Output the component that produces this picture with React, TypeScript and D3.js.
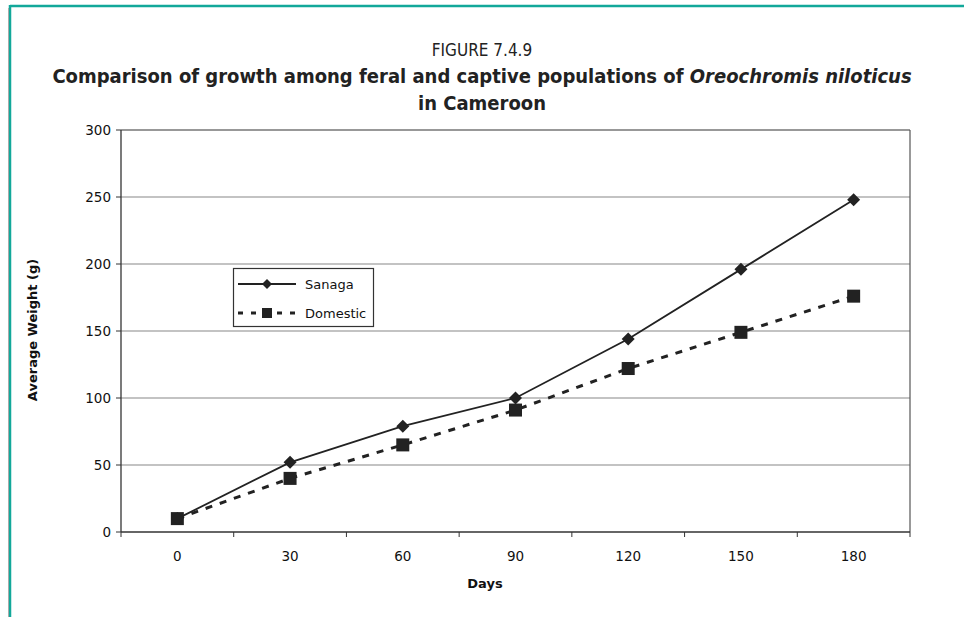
import React from "react";
import * as d3 from "d3";

const days = ["0", "30", "60", "90", "120", "150", "180"];
const sanaga = [10, 52, 79, 100, 144, 196, 248];
const domestic = [10, 40, 65, 91, 122, 149, 176];
const yTicks = [0, 50, 100, 150, 200, 250, 300];

const W = 964, H = 617;
const L = 121, R = 910, T = 130, B = 532;

export default function App() {
  const x = d3.scaleBand<string>().domain(days).range([L, R]);
  const y = d3.scaleLinear().domain([0, 300]).range([B, T]);
  const cx = (d: string) => (x(d) as number) + x.bandwidth() / 2;
  const line = d3.line<number>().x((_, i) => cx(days[i])).y((v) => y(v));
  const tickFont = "'DejaVu Sans', Verdana, sans-serif";
  const titleFont = "'Liberation Sans Narrow', 'DejaVu Sans Condensed', 'Open Sans', sans-serif";
  const edges = [...days.map((d) => x(d) as number), R];
  return (
    <svg width={W} height={H} style={{ position: "absolute", left: 0, top: 0, background: "#fff" }}>
      <line x1={10} y1={6} x2={964} y2={6} stroke="#12a89a" strokeWidth={2.5} />
      <line x1={10} y1={5} x2={10} y2={617} stroke="#12a89a" strokeWidth={2.5} />
      <line x1={8.5} y1={8} x2={8.5} y2={617} stroke="#aaa" strokeWidth={1} />
      <text x={482} y={56} textAnchor="middle" fontFamily={titleFont} fontSize={17} fill="#222">FIGURE 7.4.9</text>
      <text x={482} y={83} textAnchor="middle" fontFamily={titleFont} fontSize={20} fontWeight="bold" fill="#222">
        Comparison of growth among feral and captive populations of <tspan fontStyle="italic">Oreochromis niloticus</tspan>
      </text>
      <text x={482} y={110} textAnchor="middle" fontFamily={titleFont} fontSize={20} fontWeight="bold" fill="#222">in Cameroon</text>
      {yTicks.map((t) => (
        <g key={t}>
          {t > 0 && <line x1={L} x2={R} y1={y(t)} y2={y(t)} stroke={t === 300 ? "#333" : "#888"} strokeWidth={1.2} />}
          <line x1={L - 5} x2={L} y1={y(t)} y2={y(t)} stroke="#333" />
          <text x={L - 10} y={y(t) + 5} textAnchor="end" fontFamily={tickFont} fontSize={13.5} fill="#111">{t}</text>
        </g>
      ))}
      <line x1={R} x2={R} y1={T} y2={B} stroke="#555" strokeWidth={1.2} />
      <line x1={L} x2={L} y1={T} y2={B} stroke="#333" strokeWidth={1.3} />
      <line x1={L} x2={R} y1={B} y2={B} stroke="#333" strokeWidth={1.3} />
      {edges.map((e, i) => (
        <line key={i} x1={e} x2={e} y1={B} y2={B + 5} stroke="#333" />
      ))}
      {days.map((d) => (
        <text key={d} x={cx(d)} y={561} textAnchor="middle" fontFamily={tickFont} fontSize={13.5} fill="#111">{d}</text>
      ))}
      <text x={485} y={588} textAnchor="middle" fontFamily={tickFont} fontSize={13} fontWeight="bold" fill="#111">Days</text>
      <text transform="translate(37,330) rotate(-90)" textAnchor="middle" fontFamily={tickFont} fontSize={13} fontWeight="bold" fill="#111">Average Weight (g)</text>

      <path d={line(domestic) || ""} fill="none" stroke="#222" strokeWidth={3} strokeDasharray="7,8" />
      <path d={line(sanaga) || ""} fill="none" stroke="#222" strokeWidth={1.8} />
      {domestic.map((v, i) => (
        <rect key={i} x={cx(days[i]) - 6.5} y={y(v) - 6.5} width={13} height={13} fill="#222" />
      ))}
      {sanaga.map((v, i) => (
        <path key={i} d={`M${cx(days[i])},${y(v) - 6.5}l6.5,6.5l-6.5,6.5l-6.5,-6.5z`} fill="#222" />
      ))}

      <rect x={233.5} y={268.5} width={140} height={58} fill="#fff" stroke="#333" strokeWidth={1.2} />
      <line x1={238} x2={296} y1={284} y2={284} stroke="#222" strokeWidth={1.8} />
      <path d="M267,279l5,5l-5,5l-5,-5z" fill="#222" />
      <text x={305} y={289} fontFamily={tickFont} fontSize={13} fill="#111">Sanaga</text>
      <line x1={238} x2={296} y1={313} y2={313} stroke="#222" strokeWidth={3} strokeDasharray="5,8" />
      <rect x={262} y={308} width={10} height={10} fill="#222" />
      <text x={305} y={318} fontFamily={tickFont} fontSize={13} fill="#111">Domestic</text>
    </svg>
  );
}
